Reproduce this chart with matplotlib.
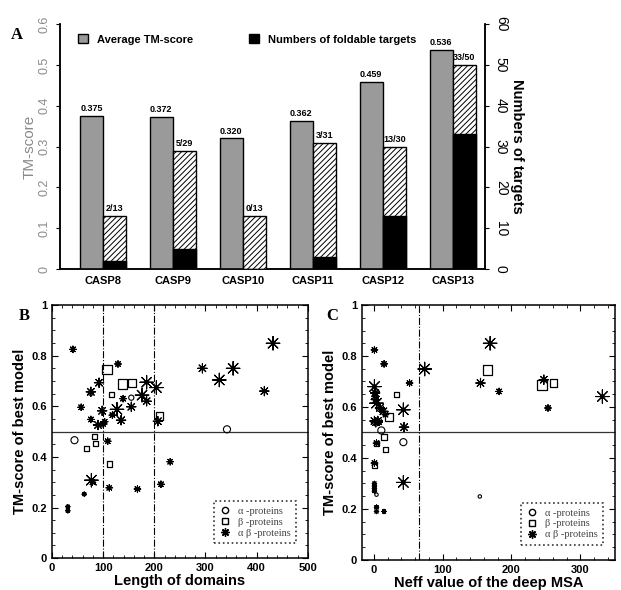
import numpy as np
import matplotlib
matplotlib.use("Agg")
import matplotlib.pyplot as plt
from matplotlib.patches import Patch
from matplotlib.lines import Line2D
from matplotlib.ticker import MultipleLocator

plt.rcParams['font.family'] = ['Liberation Sans', 'DejaVu Sans']
plt.rcParams['hatch.linewidth'] = 0.7

# ---- panel A data ----
casp = ['CASP8', 'CASP9', 'CASP10', 'CASP11', 'CASP12', 'CASP13']
avg_tm = [0.375, 0.372, 0.320, 0.362, 0.459, 0.536]
n_fold = [2, 5, 0, 3, 13, 33]
n_total = [13, 29, 13, 31, 30, 50]

# ---- panel B data (length of domains vs TM-score) ----
b_a_x = [44, 76, 155, 342]
b_a_y = [0.466, 0.653, 0.634, 0.509]
b_a_sz = ['M', 'S', 'S', 'M']

b_b_x = [107, 138, 156, 117, 210, 83, 85, 67, 113]
b_b_y = [0.746, 0.688, 0.693, 0.647, 0.561, 0.480, 0.453, 0.434, 0.372]
b_b_sz = ['L', 'L', 'M', 'S', 'M', 'S', 'S', 'S', 'S']

b_ab_x = [41, 129, 92, 76, 139, 185, 204, 176, 185, 57, 98, 127, 155, 118,
          135, 76, 90, 103, 100, 207, 109, 77, 79, 63, 31, 31, 112, 167, 213,
          231, 432, 294, 354, 327, 415]
b_ab_y = [0.825, 0.767, 0.693, 0.657, 0.630, 0.695, 0.674, 0.644, 0.620,
          0.596, 0.582, 0.588, 0.598, 0.565, 0.545, 0.548, 0.526, 0.539, 0.530,
          0.541, 0.462, 0.308, 0.300, 0.253, 0.203, 0.187, 0.278, 0.273, 0.292,
          0.381, 0.849, 0.750, 0.750, 0.704, 0.660]
b_ab_sz = ['S', 'S', 'M', 'M', 'S', 'L', 'L', 'L', 'M', 'S', 'M', 'L', 'M',
           'S', 'M', 'S', 'M', 'S', 'S', 'M', 'S', 'L', 'S', 'XS', 'XS', 'XS',
           'S', 'S', 'S', 'S', 'L', 'M', 'L', 'L', 'M']

# ---- panel C data (Neff of deep MSA vs TM-score) ----
c_a_x = [43, 11, 154, 4, 2, 3]
c_a_y = [0.462, 0.508, 0.249, 0.256, 0.653, 0.634]
c_a_sz = ['M', 'M', 'XS', 'XS', 'S', 'S']

c_b_x = [165, 244, 261, 33, 22, 15, 4, 17, 1]
c_b_y = [0.746, 0.687, 0.694, 0.648, 0.560, 0.482, 0.458, 0.432, 0.372]
c_b_sz = ['L', 'L', 'M', 'S', 'M', 'S', 'S', 'S', 'S']

c_ab_x = [1, 15, 74, 52, 1, 2, 3, 4, 9, 14, 17, 43, 1, 3, 6, 8, 44, 4, 1,
          43, 1, 1, 1, 1, 4, 4, 15, 169, 155, 182, 247, 253, 332]
c_ab_y = [0.824, 0.769, 0.749, 0.694, 0.680, 0.655, 0.629, 0.615, 0.596,
          0.583, 0.570, 0.589, 0.545, 0.540, 0.545, 0.540, 0.521, 0.458, 0.380,
          0.304, 0.300, 0.290, 0.280, 0.270, 0.207, 0.190, 0.190, 0.850, 0.694,
          0.661, 0.707, 0.596, 0.641]
c_ab_sz = ['S', 'S', 'L', 'S', 'L', 'M', 'M', 'L', 'M', 'M', 'S', 'L', 'M',
           'M', 'M', 'S', 'M', 'S', 'S', 'L', 'XS', 'XS', 'XS', 'XS', 'XS',
           'XS', 'XS', 'L', 'M', 'S', 'M', 'S', 'L']

legend_labels = ['α -proteins', 'β -proteins', 'α β -proteins']

star_s = {'XS': 10, 'S': 22, 'M': 45, 'L': 95}
sq_s = {'S': 14, 'M': 30, 'L': 48}
circ_s = {'XS': 6, 'S': 14, 'M': 26}
ASTER = (8, 2, 0)
SERIF = ['Liberation Serif', 'DejaVu Serif']

fig = plt.figure(figsize=(6.21, 5.90), dpi=100)

# ================= panel A =================
ax = fig.add_axes([0.0966, 0.544, 0.684, 0.415])
ax2 = ax.twinx()
x = np.arange(len(casp))
w = 0.33
ax.bar(x - w / 2, avg_tm, w, color='#9a9a9a', edgecolor='k', lw=1, zorder=3)
ax2.bar(x + w / 2, n_total, w, color='white', edgecolor='k', hatch='//////',
        lw=1, zorder=3)
ax2.bar(x + w / 2, n_fold, w, color='k', edgecolor='k', lw=1, zorder=4)

for xi, v in zip(x, avg_tm):
    ax.text(xi - w / 2, v + 0.007, '%.3f' % v, ha='center', va='bottom',
            fontsize=6.5, fontweight='bold')
for xi, f, t in zip(x, n_fold, n_total):
    ax2.text(xi + w / 2, t + 0.7, '%d/%d' % (f, t), ha='center', va='bottom',
             fontsize=6.5, fontweight='bold')

ax.set_xlim(-0.614, 5.457)
ax.set_ylim(0, 0.6)
ax2.set_ylim(0, 60)
ax.set_xticks(x)
ax.set_xticklabels(casp, fontsize=8, fontweight='bold')
ax.set_yticks(np.arange(0, 0.61, 0.1))
ax.set_yticklabels(['0', '0.1', '0.2', '0.3', '0.4', '0.5', '0.6'])
ax.tick_params(axis='y', labelrotation=90, labelcolor='#8a8a8a', labelsize=9,
               direction='out', length=3)
ax.tick_params(axis='x', length=0, pad=5)
for lab in ax.get_yticklabels():
    lab.set_va('center')
ax2.set_yticks(np.arange(0, 61, 10))
ax2.tick_params(axis='y', labelrotation=-90, labelsize=10, direction='out',
                length=3)
for lab in ax2.get_yticklabels():
    lab.set_va('center')
ax.set_ylabel('TM-score', color='#8a8a8a', fontsize=11, labelpad=2)
ax2.set_ylabel('Numbers of targets', fontsize=10.5, fontweight='bold',
               rotation=-90, labelpad=12)
for a in (ax, ax2):
    a.spines['top'].set_visible(False)
    for s in ('left', 'right', 'bottom'):
        a.spines[s].set_linewidth(1.1)

handles = [Patch(facecolor='#9a9a9a', edgecolor='k'),
           Patch(facecolor='k', edgecolor='k')]
leg = ax2.legend(handles, ['Average TM-score', 'Numbers of foldable targets'],
                 ncol=2, loc='upper left', bbox_to_anchor=(0.02, 1.0),
                 frameon=False, handlelength=0.9, handleheight=0.9,
                 columnspacing=5.0, handletextpad=0.8,
                 prop={'size': 8, 'weight': 'bold'})
leg.set_zorder(10)
fig.text(0.018, 0.955, 'A', fontsize=12, fontweight='bold',
         family=SERIF, va='top')


# ================= panels B and C =================
def scatter_panel(axp, ax_x, ax_y, ax_sz, bx, by, bsz, abx, aby, absz):
    axp.scatter(ax_x, ax_y, s=[circ_s[k] for k in ax_sz], marker='o',
                facecolors='none', edgecolors='k', linewidths=0.8, zorder=3)
    axp.scatter(bx, by, s=[sq_s[k] for k in bsz], marker='s',
                facecolors='none', edgecolors='k', linewidths=0.9, zorder=3)
    axp.scatter(abx, aby, s=[star_s[k] for k in absz], marker=ASTER,
                c='k', linewidths=0.8, zorder=4)
    axp.scatter(abx, aby, s=[star_s[k] * 0.12 for k in absz], marker='o',
                c='k', linewidths=0, zorder=4)
    axp.axhline(0.5, color='#333333', lw=0.9, zorder=2)
    axp.set_ylim(0, 1)
    axp.set_yticks([0, 0.2, 0.4, 0.6, 0.8, 1.0])
    axp.set_yticklabels(['0', '0.2', '0.4', '0.6', '0.8', '1'])
    axp.yaxis.set_minor_locator(MultipleLocator(0.05))
    axp.xaxis.set_minor_locator(MultipleLocator(20))
    axp.tick_params(which='both', direction='in', top=True, right=True,
                    labelsize=8)
    axp.tick_params(which='major', length=4)
    axp.tick_params(which='minor', length=2)
    for lab in axp.get_xticklabels() + axp.get_yticklabels():
        lab.set_fontweight('bold')
    axp.set_ylabel('TM-score of best model', fontsize=10.5, fontweight='bold',
                   labelpad=3)
    for s in axp.spines.values():
        s.set_linewidth(1.1)
    hl = [Line2D([], [], ls='none', marker='o', mfc='none', mec='k', ms=4.5),
          Line2D([], [], ls='none', marker='s', mfc='none', mec='k', ms=4.5),
          Line2D([], [], ls='none', marker=ASTER, color='k', ms=6)]
    lg = axp.legend(hl, legend_labels,
                    loc='lower right', bbox_to_anchor=(0.975, 0.04),
                    fancybox=False, handlelength=1.0, handletextpad=0.8,
                    borderpad=0.5, labelspacing=0.15,
                    prop={'size': 7.5, 'family': SERIF})
    lg.get_frame().set_linestyle(':')
    lg.get_frame().set_edgecolor('k')
    lg.get_frame().set_linewidth(1.2)
    for t in lg.get_texts():
        t.set_color('#444444')


axb = fig.add_axes([0.0837, 0.054, 0.412, 0.429])
scatter_panel(axb, b_a_x, b_a_y, b_a_sz, b_b_x, b_b_y, b_b_sz,
              b_ab_x, b_ab_y, b_ab_sz)
axb.axvline(100, color='k', ls='-.', lw=0.8, zorder=2)
axb.axvline(200, color='k', ls='-.', lw=0.8, zorder=2)
axb.set_xlim(0, 500)
axb.set_xticks(np.arange(0, 501, 100))
for lab in axb.get_xticklabels():
    lab.set_fontweight('bold')
axb.set_xlabel('Length of domains', fontsize=10.5, fontweight='bold',
               labelpad=1)
fig.text(0.03, 0.478, 'B', fontsize=12, fontweight='bold',
         family=SERIF, va='top')

axc = fig.add_axes([0.583, 0.051, 0.407, 0.432])
scatter_panel(axc, c_a_x, c_a_y, c_a_sz, c_b_x, c_b_y, c_b_sz,
              c_ab_x, c_ab_y, c_ab_sz)
axc.axvline(65, color='k', ls='-.', lw=0.8, zorder=2)
axc.set_xlim(-17, 350)
axc.set_xticks([0, 100, 200, 300])
for lab in axc.get_xticklabels():
    lab.set_fontweight('bold')
axc.set_xlabel('Neff value of the deep MSA', fontsize=10.5, fontweight='bold',
               labelpad=1)
fig.text(0.525, 0.478, 'C', fontsize=12, fontweight='bold',
         family=SERIF, va='top')

fig.savefig('out.png', dpi=100)
